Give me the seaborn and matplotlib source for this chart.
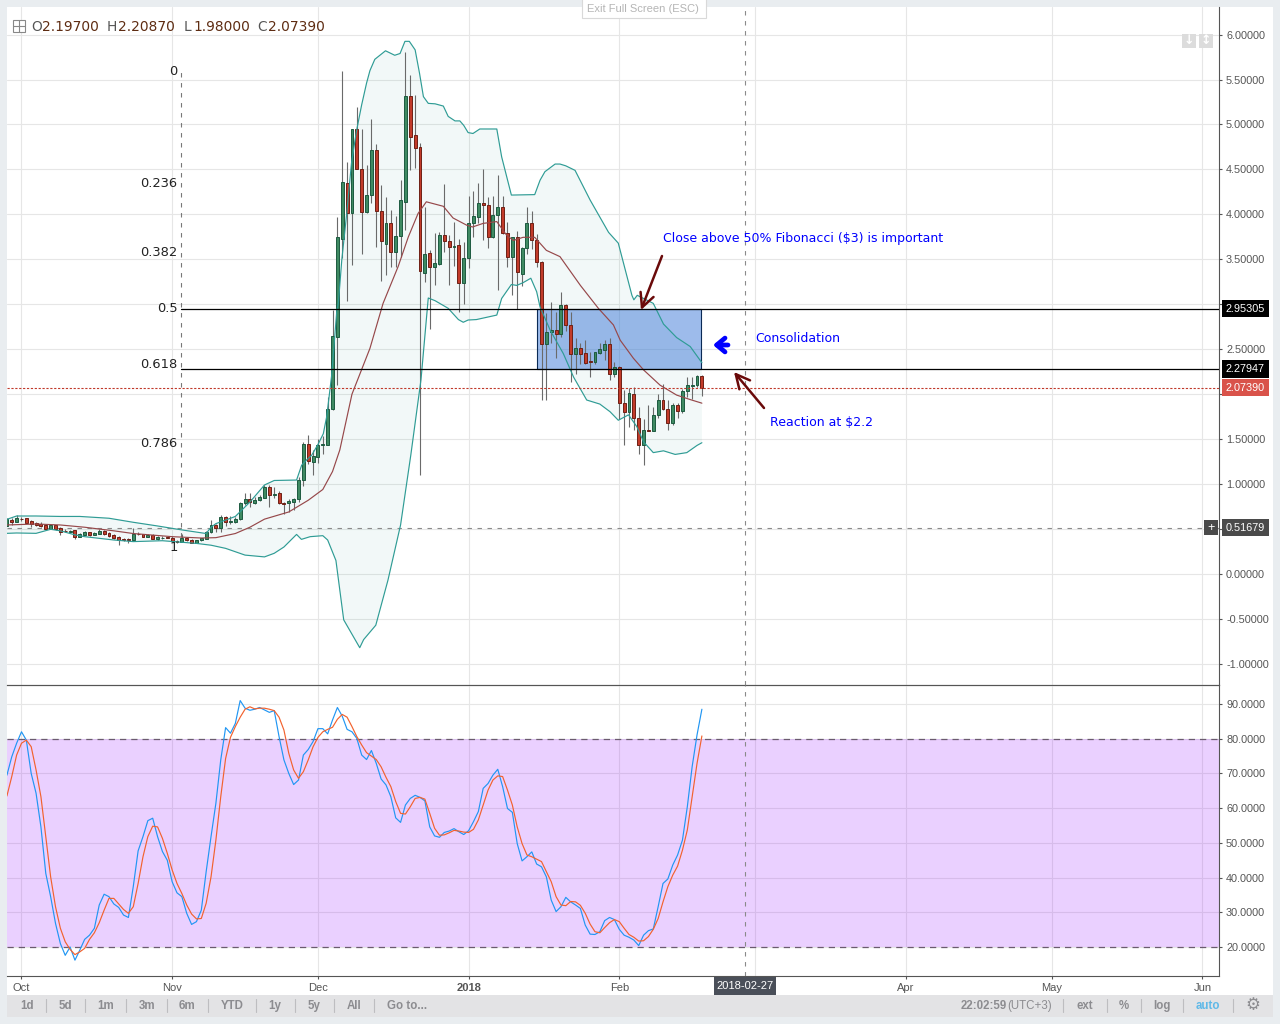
import numpy as np
import pandas as pd
import seaborn as sns
import matplotlib
matplotlib.use("Agg")
import matplotlib.pyplot as plt
from matplotlib.patches import Rectangle, FancyArrowPatch

# daily candles, first one is 2017-09-28
open_ = [.534,.604,.582,.615,.62,.586,.563,.556,.549,.505,.545,.508,.482,.472,.486,.415,.434,.463,.437,.445,
         .474,.456,.43,.408,.385,.385,.378,.45,.44,.415,.43,.39,.40,.41,.395,.365,.36,.40,.38,.35,
         .375,.39,.47,.54,.51,.63,.58,.58,.61,.785,.83,.79,.82,.85,.97,.88,.90,.79,.785,.80,
         .83,1.04,1.45,1.25,1.305,1.43,1.435,1.83,2.64,3.73,4.345,4.01,4.95,4.51,4.03,4.22,4.72,4.04,3.67,3.90,
         3.585,3.76,4.14,5.32,4.88,4.745,3.35,3.57,3.42,3.45,3.77,3.70,3.64,3.655,3.24,3.51,3.90,3.975,4.13,4.10,
         3.75,3.99,4.08,3.79,3.53,3.745,3.34,3.63,3.90,3.715,3.475,2.555,2.69,2.71,2.665,2.99,2.765,2.45,2.51,2.455,
         2.365,2.36,2.46,2.49,2.56,2.22,2.30,1.90,1.805,2.00,1.73,1.44,1.60,1.595,1.765,1.93,1.83,1.675,1.875,1.815,
         2.03,2.095,2.10,2.197]
high = [.62,.62,.655,.63,.625,.60,.58,.58,.56,.55,.55,.52,.50,.485,.49,.46,.48,.47,.47,.50,
        .49,.47,.44,.42,.40,.40,.51,.47,.45,.45,.44,.42,.42,.415,.42,.38,.44,.41,.39,.38,
        .40,.48,.60,.56,.66,.65,.64,.63,.80,.90,.90,.86,.88,.99,.99,.97,.92,.80,.83,.84,
        1.08,1.47,1.55,1.38,1.50,1.53,1.97,2.94,3.97,5.59,4.58,4.95,5.20,4.95,4.55,5.06,4.78,4.33,4.19,4.05,
        3.98,4.38,5.81,5.55,5.33,4.79,4.08,3.60,3.79,3.80,4.34,3.77,3.92,3.73,3.69,4.20,4.26,4.35,4.50,4.19,
        4.20,4.44,4.20,3.92,3.75,3.81,3.64,4.08,4.04,3.78,3.48,2.90,3.02,2.91,3.14,3.0,2.91,2.62,2.565,2.60,
        2.47,2.47,2.565,2.60,2.625,2.36,2.31,2.05,2.065,2.075,1.86,1.72,1.88,1.86,2.00,2.11,1.935,1.90,1.905,2.06,
        2.195,2.195,2.21,2.2087]
low = [.53,.55,.575,.59,.57,.52,.53,.52,.49,.50,.49,.43,.465,.465,.385,.41,.43,.42,.43,.44,
       .43,.41,.39,.32,.37,.35,.375,.43,.41,.41,.385,.375,.39,.395,.36,.35,.355,.37,.345,.34,
       .37,.385,.46,.47,.47,.53,.56,.57,.60,.77,.75,.78,.81,.84,.74,.84,.78,.67,.69,.71,
       .80,.98,1.22,1.10,1.23,1.34,1.43,1.82,2.10,3.52,3.04,3.44,4.50,3.56,4.01,4.13,3.64,3.26,3.33,3.41,
       3.42,3.53,3.83,4.49,4.52,1.10,3.25,2.73,3.215,3.44,3.585,3.215,3.425,2.91,3.0,3.40,3.75,3.90,3.715,3.63,
       3.74,3.16,3.78,3.41,3.10,2.95,3.20,3.56,3.62,3.42,1.935,1.935,2.57,2.40,2.64,2.70,2.13,2.23,2.34,2.335,
       2.195,2.34,2.45,2.38,2.16,2.195,1.72,1.435,1.63,1.60,1.34,1.21,1.59,1.59,1.74,1.82,1.60,1.66,1.73,1.79,
       1.97,1.95,2.085,1.98]
close = [.608,.578,.626,.608,.57,.556,.549,.534,.504,.545,.497,.471,.475,.482,.415,.445,.463,.434,.452,.478,
         .445,.423,.40,.378,.38,.38,.445,.44,.415,.43,.39,.41,.405,.40,.37,.36,.395,.375,.35,.375,
         .395,.47,.54,.51,.63,.58,.585,.61,.785,.83,.80,.82,.86,.97,.88,.89,.785,.78,.81,.83,
         1.05,1.45,1.26,1.315,1.43,1.445,1.83,2.65,3.745,4.36,4.01,4.95,4.51,4.03,4.22,4.72,4.04,3.70,3.90,3.585,
         3.76,4.16,5.32,4.865,4.74,3.37,3.56,3.42,3.46,3.77,3.70,3.64,3.645,3.24,3.51,3.90,3.98,4.13,4.10,3.75,
         3.99,4.08,3.79,3.53,3.745,3.355,3.63,3.90,3.715,3.475,2.555,2.695,2.71,2.665,2.99,2.765,2.45,2.51,2.45,2.35,
         2.355,2.465,2.50,2.56,2.22,2.30,1.90,1.805,2.01,1.74,1.44,1.60,1.59,1.77,1.93,1.83,1.675,1.875,1.815,2.03,
         2.10,2.10,2.20,2.0739]

# bollinger bands, read at the bends (days since 2017-10-01)
upper_days = [-3,-1,3,8,12,18,23,28,33,38,39,40,42,44,47,50,52,56.6,57.65,58.7,59.7,61.1,62.1,62.8,63.8,64.9,65.2,65.9,66.9,67.9,
              68.9,70,71,71.7,72.7,74.9,76.8,77.9,78.9,79.8,81,81.9,82.7,83.7,85.1,86.8,87.8,89.2,90.2,91,91.9,92.9,94.3,97.8,98.8,100.8,105.6,106.7,107.7,109.8,
              110.8,112,113.9,117,120.8,122.8,125.6,126,126.7,130,132.1,134.8,137.6,140]
upper_vals = [.608,.645,.645,.64,.64,.62,.575,.534,.49,.45,.52,.56,.60,.64,.80,.99,1.04,1.045,1.21,1.27,1.32,1.45,1.56,1.75,2.2,2.94,3.01,3.49,4.0,4.57,
              4.92,5.22,5.46,5.6,5.725,5.82,5.77,5.79,5.925,5.925,5.83,5.57,5.31,5.235,5.23,5.205,5.09,5.04,5.04,4.99,4.91,4.9,4.95,4.95,4.64,4.215,4.22,4.38,4.475,4.56,
              4.56,4.54,4.49,4.16,3.80,3.68,3.10,3.05,3.10,3.01,2.78,2.63,2.53,2.35]
lower_days = [-3,-1,3,6,8,11,13,19,23,29,36,39,42,46,50,52,54,56.6,57.6,59.4,62,63,64.7,66.3,69.6,70.4,72.9,75.4,78,80.1,
              82.2,83.7,85.1,87.8,89.9,90.9,91.9,93.6,97.8,98.8,100.8,101.9,103.2,104.8,106,106.7,108.8,111.5,113.6,116.3,119,121.1,122.8,124.9,126.6,128,130,132.1,134.5,136.9,139,140]
lower_vals = [.452,.456,.452,.497,.48,.435,.415,.378,.36,.37,.34,.32,.285,.21,.19,.23,.30,.44,.385,.415,.426,.378,.15,-.51,-.82,-.73,-.57,-.07,.545,1.32,
              2.16,3.07,3.04,2.955,2.83,2.80,2.825,2.83,2.88,3.065,3.22,3.21,3.24,3.29,3.14,2.97,2.71,2.45,2.19,1.935,1.89,1.805,1.71,1.77,1.64,1.47,1.35,1.37,1.33,1.35,1.43,1.46]
basis_days = [-3,3,8,13,19,23,31,37,40,44,47,50,55,59,62,64,65.5,68,71.7,74.4,77.5,79.6,81.6,83.3,84.7,86.8,88.8,91.6,92.8,95,
              97.8,99.8,101.2,103.2,105.6,108,110.8,115,118.7,121.8,123.2,125.9,128,131.4,134.8,137.6,140]
basis_vals = [.545,.556,.545,.52,.48,.45,.415,.40,.404,.45,.52,.61,.69,.82,.94,1.14,1.38,2.0,2.51,3.01,3.42,3.75,4.01,4.14,4.12,4.09,3.96,3.88,3.86,3.90,
              3.92,3.77,3.71,3.745,3.745,3.60,3.53,3.21,2.955,2.77,2.60,2.40,2.27,2.10,1.99,1.94,1.90]

# stochastic rsi, same days as the candles
stoch_k = [69.5,74.8,78.7,82.0,79.6,70,64.3,54.6,41.2,34.5,26.8,21,17.6,20,16.2,19.1,22.2,23.4,25.4,32.1,
           35.2,34.5,32.4,31.4,29.2,28.5,37.4,47.7,51.8,56.4,57.1,51.8,47.5,45,38.8,35.6,34.5,29.7,26.5,27.3,
           30.6,41.7,51.8,61.4,73.9,83.2,81.6,84.4,91,88.8,88.2,88.5,89,88.3,87.6,88.1,80.6,73.9,70,66.8,
           68.1,75.3,76.9,79.2,82.9,82.9,81.4,85.4,89,86.5,82.7,82,80.1,75.3,74,76.6,72.9,68.4,66.7,63.3,
           57.2,55.9,60.9,62.8,63.7,63.1,62.1,54.6,52,51.6,53,53.4,54.1,53.2,52.4,53.5,56.1,59,65.7,67.1,
           69.5,71.2,66.2,59.9,58.8,49.8,44.8,46,47.4,43.9,43.1,40.2,33.5,30.2,31.6,34.3,33,32.1,31.1,26.3,
           23.7,23.6,24.4,27.6,28.5,27.9,25.1,23.4,22.8,22,20.4,23.4,24.7,25.2,31.6,38.3,39.6,43.6,46.5,50.8,
           60.4,72,81.1,88.5]
stoch_d = [63.5,69.1,75.3,78.7,79.6,77.7,71,63.3,51.8,40.2,31.6,25.4,21.5,19.3,17.8,18.6,19.6,22.2,24.1,27,
           30.6,34,34,32.4,30.8,29.7,31.6,38.3,46,51.8,54.8,54.6,51.3,47,42.2,38.3,35.4,32.1,29.5,28.1,
           28.2,32.6,40.2,50.8,63.3,74.3,80.4,83.5,86.2,88.5,89.2,88.6,88.8,88.8,88.5,88.1,86.2,82.5,75.8,71,
           68.6,70.5,73.9,77.7,80.4,82,82.7,83.3,85.6,87,86.2,83.5,80.6,78.2,76,75,74,71.9,68.9,66.2,
           61.9,58.5,58.3,60.4,62.8,63.1,62.6,58.5,54.2,52.2,52.3,52.9,53.6,53.4,53.1,53,53.9,56.6,60.9,65.2,
           68.1,69.3,69.1,65.2,60.9,54.6,49.8,46.5,46,45.3,44.6,41.7,38.8,34.5,32.1,31.9,33.1,33,32,29.7,
           26.6,24.4,24.1,25.6,27,27.9,27.3,25.4,23.6,22.8,21.7,21.8,23,25.1,28.2,33,37.4,40.7,43.3,47.9,
           53.7,63.3,72.9,80.8]

price_ticks = [-1,-.5,0,.5,1,1.5,2,2.5,3,3.5,4,4.5,5,5.5,6]
price_covered = [.5,2,3]  # these labels sit under the price tags
stoch_ticks = [20,30,40,50,60,70,80,90]
month_dates = ["2017-10-01","2017-11-01","2017-12-01","2018-01-01","2018-02-01","2018-03-01","2018-04-01","2018-05-01","2018-06-01"]
month_labels = ["Oct","Nov","Dec","2018","Feb","","Apr","May","Jun"]
fib_labels = ["0","0.236","0.382","0.5","0.618","0.786","1"]
fib_label_y = [5.59,4.34,3.58,2.95,2.33,1.446,.30]
fib_lines = [2.95305,2.27947]
last_close = 2.07390
cross_price = 0.51679
cross_date = "2018-02-27"
range_tabs = ["1d","5d","1m","3m","6m","YTD","1y","5y","All","Go to..."]
range_x = [27,65,106,147,187,232,275,314,354,407]
range_seps = [45.5,84.5,125.5,166.5,207.5,255.5,294.5,333.5,373.5]

start = pd.Timestamp("2017-10-01")
def day_of(s):
    return (pd.Timestamp(s) - start).days

candles = pd.DataFrame({"open": open_, "high": high, "low": low, "close": close,
                        "k": stoch_k, "d": stoch_d})
candles["day"] = (pd.date_range("2017-09-28", periods=len(candles)) - start).days
up = candles[candles.close >= candles.open]
down = candles[candles.close < candles.open]

sns.set_theme(style="white", rc={"axes.linewidth": 0.8, "grid.color": "#e6e6e6", "grid.linewidth": 0.8})
plt.rcParams["font.family"] = ["Liberation Sans", "DejaVu Sans"]

W, H = 1280, 1024
fig = plt.figure(figsize=(W / 100, H / 100), dpi=100, facecolor="#e9edf0")

def box(x0, y0, x1, y1, **kw):
    fig.add_artist(Rectangle((x0 / W, 1 - y1 / H), (x1 - x0) / W, (y1 - y0) / H,
                             transform=fig.transFigure, **kw))

def label(x, y, s, **kw):
    kw.setdefault("va", "center")
    return fig.text(x / W, 1 - y / H, s, **kw)

# page behind the axes
box(7, 7, 1273, 995, fc="white", ec="none", zorder=-3)
box(7, 995, 1273, 1017, fc="#e3e3e5", ec="none", zorder=-2)

ax = fig.add_axes([7 / W, 1 - 685 / H, 1212 / W, 678 / H], facecolor="none")
osc = fig.add_axes([7 / W, 1 - 976 / H, 1212 / W, 291 / H], facecolor="none", sharex=ax)

xmin, xmax = -2.98, 246.4
ax.set_xlim(xmin, xmax)
ax.set_ylim(-1.235, 6.307)
osc.set_ylim(11.64, 95.48)

month_days = [day_of(m) for m in month_dates]
for a in (ax, osc):
    a.set_axisbelow(True)
    a.grid(True, axis="both")
    a.yaxis.tick_right()
    a.tick_params(axis="y", length=2.5, width=0.8, color="#555555", labelcolor="#555555",
                  labelsize=7.8, pad=2.6, right=True, left=False)
    a.set_xticks(month_days)
    for s in ("left", "top"):
        a.spines[s].set_visible(False)
    for s in ("right", "bottom"):
        a.spines[s].set_color("#555555")
ax.tick_params(axis="x", bottom=False, labelbottom=False)
osc.set_xticklabels(month_labels)
osc.tick_params(axis="x", length=2.5, width=0.8, color="#555555", labelcolor="#555555",
                labelsize=8, pad=2.2, bottom=True)
osc.get_xticklabels()[3].set_fontweight("bold")
ax.set_yticks(price_ticks)
ax.set_yticklabels(["" if v in price_covered else f"{v:.5f}" for v in price_ticks])
osc.set_yticks(stoch_ticks)
osc.set_yticklabels([f"{v:.4f}" for v in stoch_ticks])

# bands
band_x = np.r_[upper_days, lower_days[::-1]]
band_y = np.r_[upper_vals, lower_vals[::-1]]
ax.fill(band_x, band_y, fc="#00897b", alpha=0.05, ec="none", zorder=1)
sns.lineplot(x=upper_days, y=upper_vals, ax=ax, color="#2f9c95", linewidth=0.85, zorder=5, errorbar=None)
sns.lineplot(x=lower_days, y=lower_vals, ax=ax, color="#2f9c95", linewidth=0.85, zorder=5, errorbar=None)
sns.lineplot(x=basis_days, y=basis_vals, ax=ax, color="#96484a", linewidth=0.85, zorder=5, errorbar=None)

# consolidation box
d0, d1 = 106.0, 139.9
ax.add_patch(Rectangle((d0, fib_lines[1]), d1 - d0, fib_lines[0] - fib_lines[1], fc="#3c78d8",
                       alpha=0.5, ec="none", zorder=1.5))
ax.add_patch(Rectangle((d0, fib_lines[1]), d1 - d0, fib_lines[0] - fib_lines[1], fc="none",
                       ec="#0b2a55", lw=0.8, zorder=1.6))

# candles
ax.vlines(candles.day, candles.low, candles.high, color="#6a6a6a", lw=0.8, zorder=3)
ax.bar(up.day, up.close - up.open, bottom=up.open, width=0.6, color="#3f8a62", edgecolor="#1d5a40",
       linewidth=0.7, zorder=4)
ax.bar(down.day, down.open - down.close, bottom=down.close, width=0.6, color="#c23b2a", edgecolor="#6e2015",
       linewidth=0.7, zorder=4)

# fib lines and labels
fib_day = 32.8
ax.plot([fib_day, fib_day], [.41, 5.64], color="#777777", lw=0.8, dashes=(4, 5), zorder=2)
for v in fib_lines:
    ax.plot([fib_day, xmax], [v, v], color="black", lw=0.9, zorder=6)
for s, v in zip(fib_labels, fib_label_y):
    ax.text(32.1, v, s, ha="right", va="center", fontsize=9.4, family="DejaVu Sans", color="#222222", zorder=7)

# last price and crosshair
ax.axhline(last_close, color="#c0392b", lw=0.8, dashes=(2, 1.5), zorder=6)
ax.axhline(cross_price, color="#8a8a8a", lw=0.8, dashes=(4, 5), zorder=2)
for a in (ax, osc):
    a.axvline(day_of(cross_date) - 0.2, color="#8a8a8a", lw=0.8, dashes=(4, 5), zorder=6)

def flag(value, color):
    ax.text(1 + 7 / 1212, value, f"{value:.5f}", transform=ax.get_yaxis_transform(), ha="left", va="center",
            color="white", fontsize=7.8, clip_on=False, zorder=20,
            bbox=dict(boxstyle="square,pad=0.36", fc=color, ec="none"))

flag(fib_lines[0], "black")
flag(fib_lines[1], "black")
flag(last_close, "#d9534a")
flag(cross_price, "#4a4a4a")
box(1204, 520, 1218, 535, fc="#4a4a4a", ec="none", zorder=20)
label(1211, 527.5, "+", ha="center", color="white", fontsize=9, zorder=21)

# stochastic pane
osc.axhspan(20, 80, fc="#9915ff", alpha=0.2, ec="none", zorder=1)
for v in (20, 80):
    osc.axhline(v, color="#6a5b6e", lw=0.9, dashes=(5, 4), zorder=2)
sns.lineplot(data=candles, x="day", y="k", ax=osc, color="#2196f3", linewidth=0.85, zorder=4, errorbar=None)
sns.lineplot(data=candles, x="day", y="d", ax=osc, color="#f2622e", linewidth=0.85, zorder=5, errorbar=None)
ax.set_xlabel("")
ax.set_ylabel("")
osc.set_xlabel("")
osc.set_ylabel("")
osc.spines["top"].set_visible(True)
osc.spines["top"].set_color("#555555")

# drawn notes
note = dict(color="#0000ff", fontsize=9, family="DejaVu Sans")
label(663, 238.5, "Close above 50% Fibonacci ($3) is important", **note)
label(755, 338.5, "Consolidation", **note)
label(770, 422.5, "Reaction at $2.2", **note)

def arrow(p0, p1, color, lw, head):
    fig.add_artist(FancyArrowPatch(
        (p0[0] / W, 1 - p0[1] / H), (p1[0] / W, 1 - p1[1] / H), transform=fig.transFigure,
        arrowstyle=head, color=color, lw=lw, mutation_scale=10, shrinkA=0, shrinkB=0, zorder=15))

arrow((662, 256), (641, 310), "#6a0a0a", 1.8, "->,head_length=1.0,head_width=0.5")
arrow((764, 408), (734, 372), "#6a0a0a", 1.8, "->,head_length=1.0,head_width=0.5")
arrow((728, 345), (713, 345), "#0000ff", 3.4, "->,head_length=0.6,head_width=0.5")

# legend row
box(12.5, 19.5, 25, 32, fc="white", ec="#888888", lw=0.8)
fig.add_artist(plt.Line2D([12.5 / W, 25 / W], [1 - 25.7 / H, 1 - 25.7 / H], color="#888888", lw=0.8))
fig.add_artist(plt.Line2D([18.7 / W, 18.7 / W], [1 - 19.5 / H, 1 - 32 / H], color="#888888", lw=0.8))
for x, k, v in [(31, "O", "2.19700"), (107, "H", "2.20870"), (184, "L", "1.98000"), (257, "C", "2.07390")]:
    label(x, 27, k, color="#555555", fontsize=9.9, family="DejaVu Sans")
    label(x + (11 if k != "L" else 9), 27, v, color="#5e2c12", fontsize=9.9, family="DejaVu Sans")

# top widgets
box(581.5, -2, 705.5, 17.5, fc="white", ec="#d9d9d9", lw=0.8, zorder=16)
label(643, 9, "Exit Full Screen (ESC)", ha="center", color="#b5b5b5", fontsize=8, zorder=17)
box(1182, 34, 1196, 48, fc="#dcdcdc", ec="none", zorder=16)
box(1199, 34, 1213, 48, fc="#dcdcdc", ec="none", zorder=16)
label(1189, 41, "↓", ha="center", color="white", fontsize=9, family="DejaVu Sans", zorder=17, fontweight="bold")
label(1206, 41, "↕", ha="center", color="white", fontsize=9, family="DejaVu Sans", zorder=17, fontweight="bold")

# crosshair date tag
cross_px = 745
box(cross_px - 31, 977, cross_px + 31, 995, fc="#4a4f59", ec="none", zorder=16)
label(cross_px, 986, cross_date, ha="center", color="white", fontsize=8, zorder=17)

# bottom toolbar
tool = dict(color="#8c8c90", fontsize=8.3, fontweight="bold", ha="center")
for x, s in zip(range_x, range_tabs):
    label(x, 1006, s, **tool)
for x in range_seps + [1062.5, 1106.5, 1140.5, 1182.5, 1232.5]:
    fig.add_artist(plt.Line2D([x / W, x / W], [1 - 999 / H, 1 - 1012 / H], color="#bdbdc0", lw=0.8))
label(984, 1006, "22:02:59", **tool)
label(1030, 1006, "(UTC+3)", color="#8c8c90", fontsize=8.3, ha="center")
label(1085, 1006, "ext", **tool)
label(1124, 1006, "%", **tool)
label(1162, 1006, "log", **tool)
label(1208, 1006, "auto", color="#5fb9e8", fontsize=8.3, fontweight="bold", ha="center")
label(1253, 1005.5, "⚙", color="#8c8c90", fontsize=12, ha="center", family="DejaVu Sans")

fig.savefig("out.png", dpi=100, facecolor=fig.get_facecolor())
